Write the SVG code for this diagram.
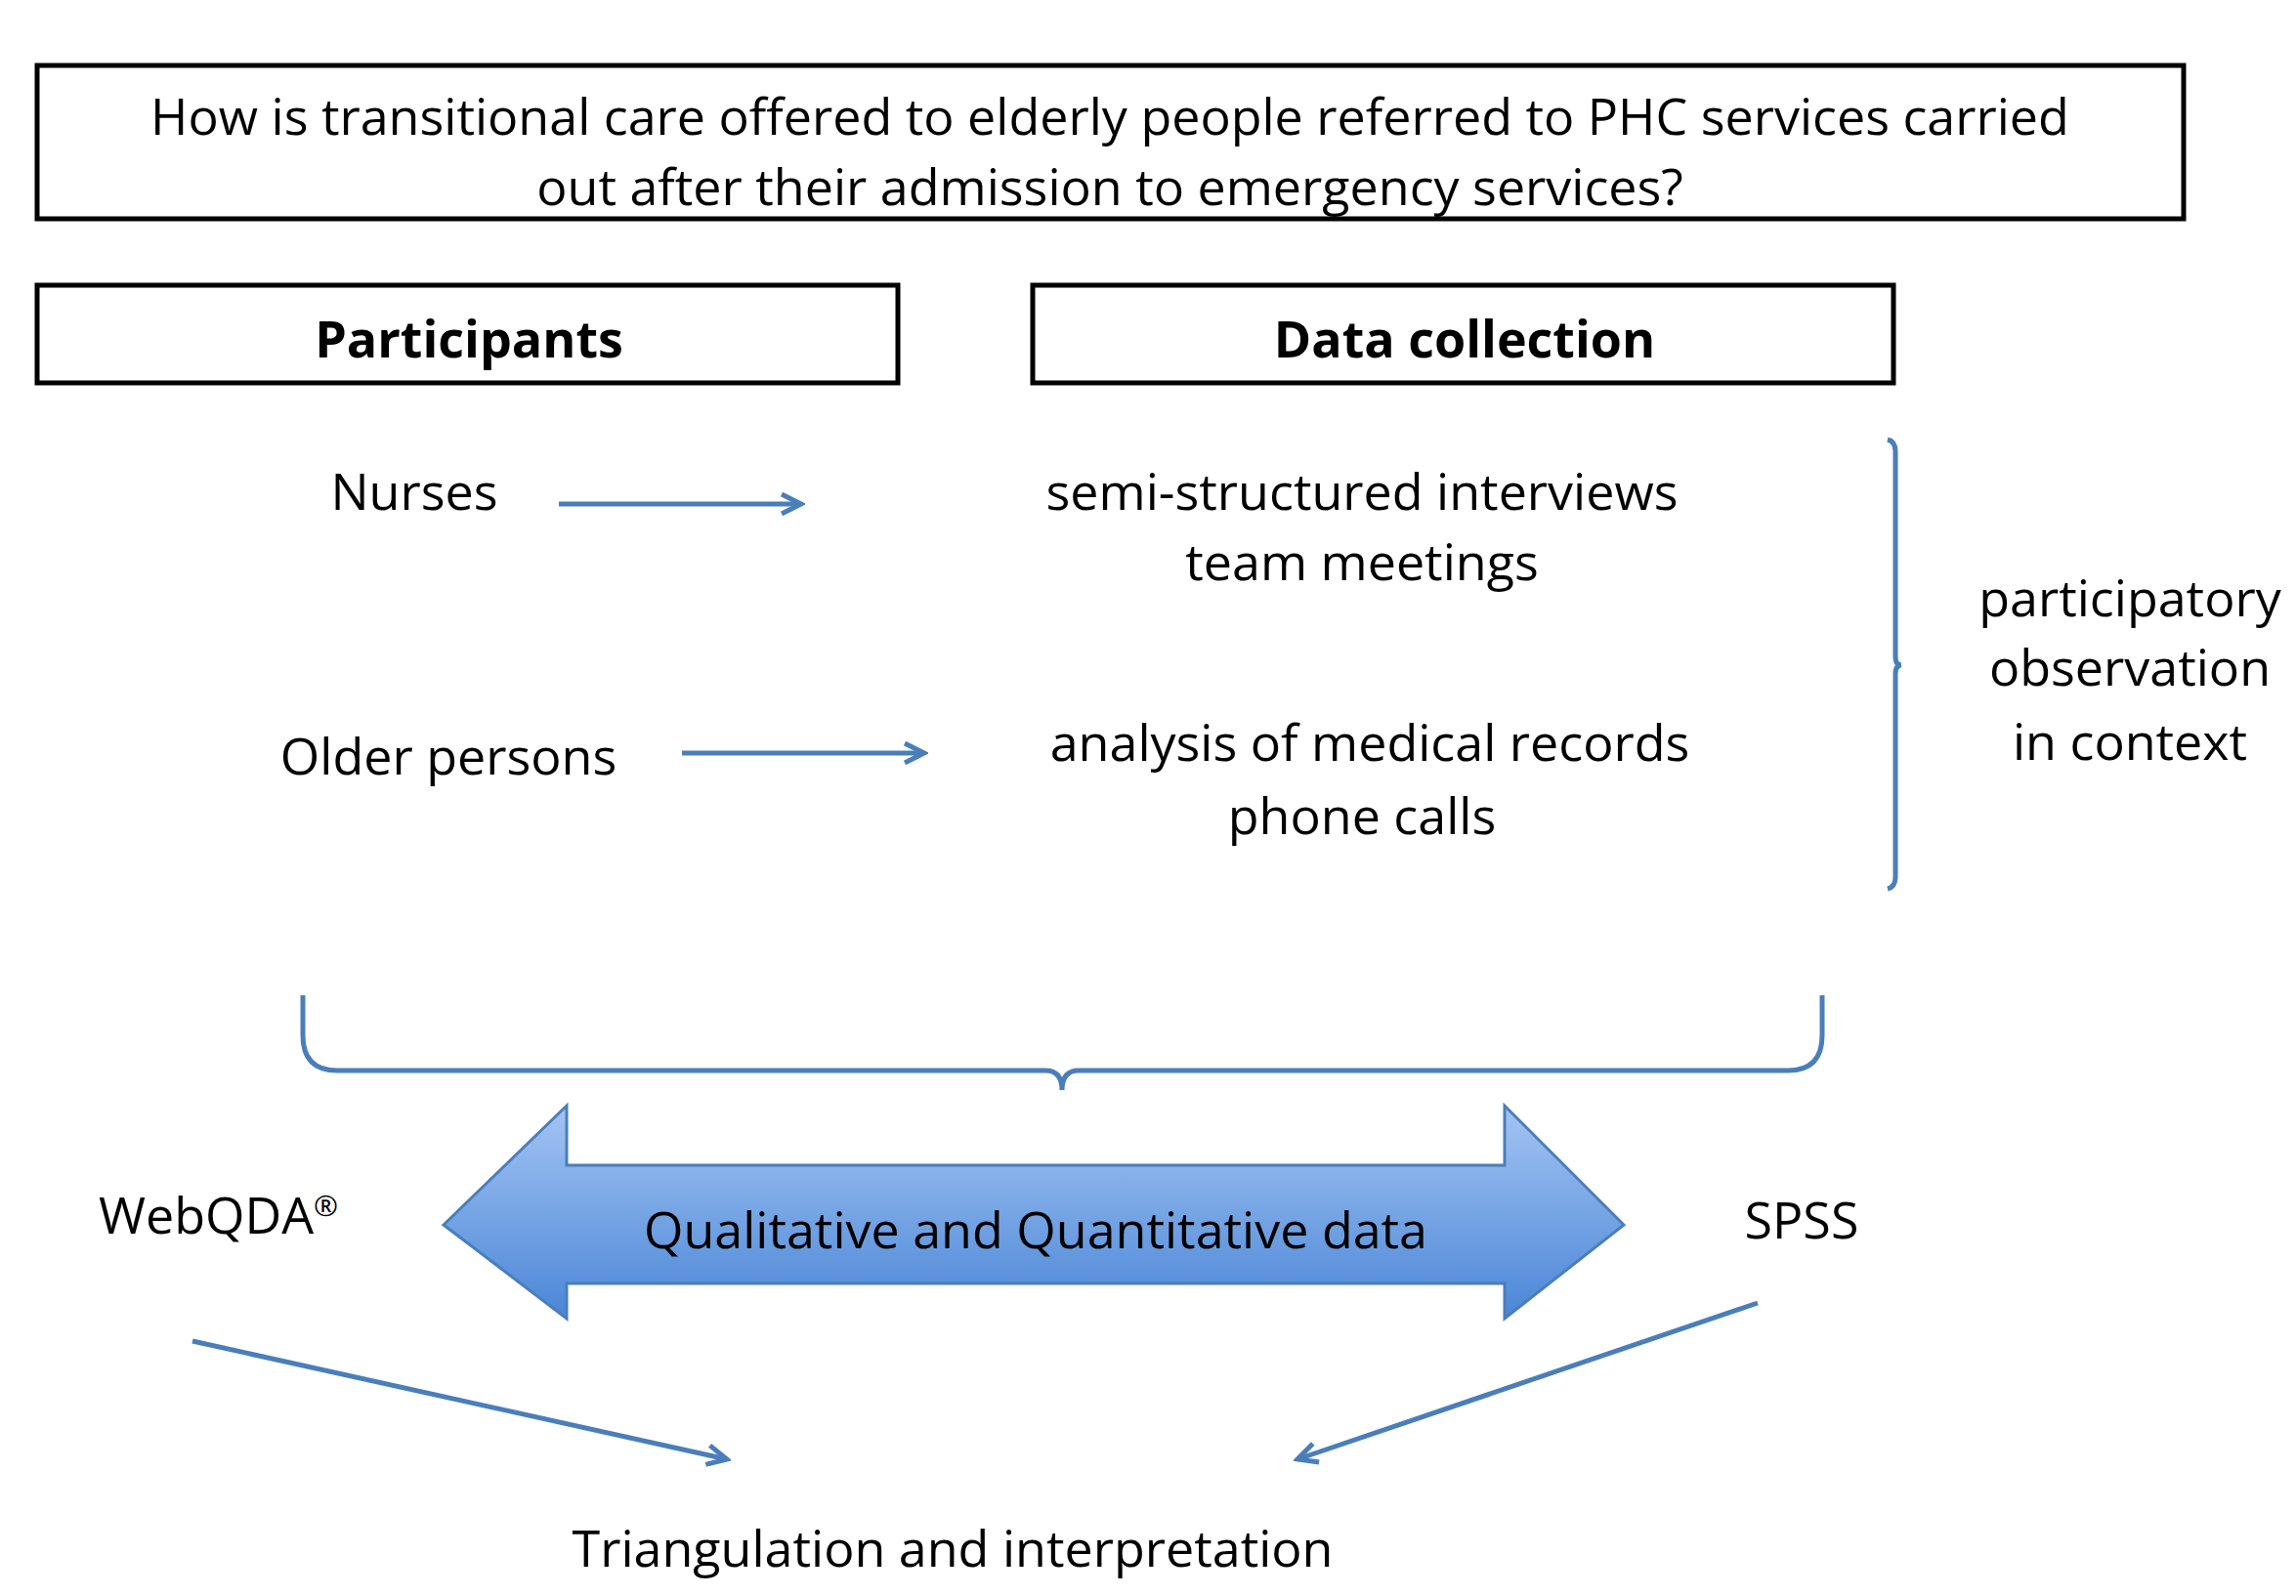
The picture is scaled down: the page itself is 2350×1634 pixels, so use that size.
<svg xmlns="http://www.w3.org/2000/svg" width="2350" height="1634" viewBox="0 0 2350 1634">
<style>
text{font-family:"Open Sans","Liberation Sans",sans-serif;font-size:52px;fill:#000;text-anchor:middle}
.b{font-weight:bold}
.box{fill:#fff;stroke:#000;stroke-width:5}
.c{fill:none;stroke:#4a7ebb;stroke-width:5}
</style>
<defs>
<marker id="ah" markerWidth="10" markerHeight="10" refX="8" refY="5" orient="auto" markerUnits="userSpaceOnUse" viewBox="0 0 10 10"><path d="M0,0 L9,5 L0,10" fill="none" stroke="#4a7ebb" stroke-width="2"/></marker>
<marker id="ah2" markerWidth="28" markerHeight="28" refX="24" refY="14" orient="auto" markerUnits="userSpaceOnUse"><path d="M4,4 L24,14 L4,24" fill="none" stroke="#4a7ebb" stroke-width="5"/></marker>
<linearGradient id="g" x1="0" y1="0" x2="0" y2="1"><stop offset="0" stop-color="#a3c4f3"/><stop offset="1" stop-color="#4a86d6"/></linearGradient>
</defs>
<g id="question"><rect class="box" x="38" y="67" width="2197" height="157"/>
<text x="1136" y="138">How is transitional care offered to elderly people referred to PHC services carried</text>
<text x="1136" y="210">out after their admission to emergency services?</text></g>
<g id="participants"><rect class="box" x="38" y="292" width="881" height="100"/><text class="b" x="480" y="366">Participants</text></g>
<g id="datacollection"><rect class="box" x="1057" y="292" width="881" height="100"/><text class="b" x="1499" y="366">Data collection</text></g>
<g id="nurses"><text x="424" y="522">Nurses</text></g>
<g id="interviews"><text x="1394" y="522">semi-structured interviews</text><text x="1394" y="594">team meetings</text></g>
<g id="older"><text x="459" y="793">Older persons</text></g>
<g id="records"><text x="1402" y="779">analysis of medical records</text><text x="1394" y="854">phone calls</text></g>
<g id="observation"><text x="2180" y="631">participatory</text><text x="2180" y="702">observation</text><text x="2180" y="778">in context</text></g>
<g id="dataarrow"><path d="M454,1254 L580,1132 L580,1193 L1540,1193 L1540,1132 L1662,1254 L1540,1350 L1540,1314 L580,1314 L580,1350 Z" fill="url(#g)" stroke="#4a7ebb" stroke-width="3"/>
<text x="1060" y="1278">Qualitative and Quantitative data</text></g>
<g id="webqda"><text x="101" y="1263" style="text-anchor:start">WebQDA<tspan font-size="30" dy="-18">®</tspan></text></g>
<g id="spss"><text x="1844" y="1268">SPSS</text></g>
<g id="triangulation"><text x="975" y="1604">Triangulation and interpretation</text></g>
<g id="connectors">
<line class="c" x1="572" y1="516" x2="820" y2="516" marker-end="url(#ah2)"/>
<line class="c" x1="698" y1="771" x2="946" y2="771" marker-end="url(#ah2)"/>
<path class="c" d="M1932,450 Q1940,452 1940,462 L1940,672 Q1940,681 1946,681 Q1940,681 1940,690 L1940,898 Q1940,908 1932,910"/>
<path class="c" d="M310,1019 L310,1060 Q310,1096 345,1096 L1070,1096 Q1087,1096 1087,1116 Q1087,1096 1104,1096 L1830,1096 Q1865,1096 1865,1060 L1865,1019"/>
<line class="c" x1="197" y1="1373" x2="744" y2="1494" marker-end="url(#ah2)"/>
<line class="c" x1="1799" y1="1334" x2="1328" y2="1494" marker-end="url(#ah2)"/>
</g>
</svg>
